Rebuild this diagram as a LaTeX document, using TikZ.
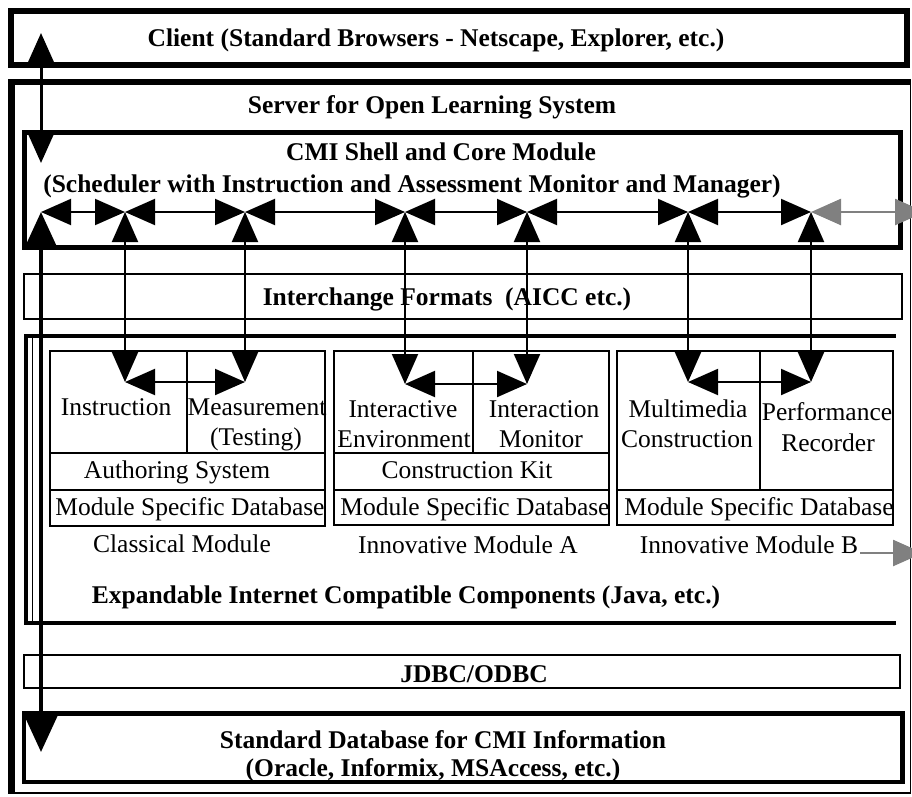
\documentclass[tikz,border=0pt]{standalone}
\usepackage{fontspec}
\setmainfont{Liberation Serif}
\usetikzlibrary{arrows.meta}
\definecolor{arrowgray}{RGB}{128,128,128}
\begin{document}
\begin{tikzpicture}[x=1pt,y=-1pt,
  txt/.style={font=\fontsize{25.5}{30}\selectfont, inner sep=0pt, anchor=base},
  btxt/.style={font=\fontsize{25.5}{30}\selectfont\bfseries, inner sep=0pt, anchor=base},
  heavybox/.style={draw, line width=6pt},
  corebox/.style={draw, line width=5pt},
  layerbox/.style={draw, line width=1.6pt},
  modbox/.style={draw, line width=2pt},
  link/.style={line width=2pt, >={Triangle[length=30pt,width=26pt]}, <->},
  toplink/.style={line width=3pt, >={Triangle[length=30pt,width=26pt]}, <->},
  biglink/.style={line width=4pt, >={Triangle[length=36pt,width=32pt]}, <->},
  graylink/.style={line width=2.5pt, draw=arrowgray, >={Triangle[length=30pt,width=26pt]}, <->, color=arrowgray},
  grayout/.style={line width=2.5pt, draw=arrowgray, >={Triangle[length=30pt,width=26pt]}, ->, color=arrowgray}
]
\clip (0,0) rectangle (912,796);
\fill[white] (0,0) rectangle (912,796);

% Client box
\draw[heavybox] (11,11) rectangle (906.5,65);
\node[btxt] (client) at (436,46) {Client (Standard Browsers - Netscape, Explorer, etc.)};

% Server frame
\draw[line width=1.5pt] (11.5,82) rectangle (910.5,793);
\draw[line width=6pt] (8,82) -- (910.5,82);
\draw[line width=7pt] (11.5,79) -- (11.5,794);
\node[btxt] (server) at (432,113) {Server for Open Learning System};

% CMI shell
\draw[corebox] (24.5,132.5) rectangle (900.5,247);
\node[btxt] (cmi1) at (441,160) {CMI Shell and Core Module};
\node[btxt] (cmi2) at (412,192) {(Scheduler with Instruction and Assessment Monitor and Manager)};

% Interchange formats
\draw[layerbox] (24,274) rectangle (902,319);
\node[btxt] (interchange) at (447,305) {Interchange Formats~ (AICC etc.)};

% Expandable components frame
\draw[line width=4.5pt] (24,336) -- (896,336);
\draw[line width=4.5pt] (24,623) -- (896,623);
\draw[line width=4.5pt] (26,334) -- (26,625);
\draw[line width=1.3pt] (32.5,338) -- (32.5,621);
\node[btxt] (expand) at (406,603) {Expandable Internet Compatible Components (Java, etc.)};

% Classical module
\draw[modbox] (50,351) rectangle (325,526);
\draw[modbox] (50,453) -- (325,453);
\draw[modbox] (50,490) -- (325,490);
\draw[modbox] (187,351) -- (187,453);
\node[txt] (instr) at (116,415) {Instruction};
\node[txt] (meas) at (257,415) {Measurement};
\node[txt] (test) at (256,445) {(Testing)};
\node[txt] (auth) at (177,478) {Authoring System};
\node[txt] (msd1) at (190,515) {Module Specific Database};
\node[txt] (classical) at (182,552) {Classical Module};

% Innovative module A
\draw[modbox] (334,351) rectangle (609,525);
\draw[modbox] (334,453) -- (609,453);
\draw[modbox] (334,490) -- (609,490);
\draw[modbox] (473,351) -- (473,453);
\node[txt] (inter1) at (403,417) {Interactive};
\node[txt] (inter2) at (404,447) {Environment};
\node[txt] (imon1) at (544,417) {Interaction};
\node[txt] (imon2) at (541,447) {Monitor};
\node[txt] (kit) at (467,478) {Construction Kit};
\node[txt] (msd2) at (475,515) {Module Specific Database};
\node[txt] (innA) at (468,553) {Innovative Module A};

% Innovative module B
\draw[modbox] (617,351) rectangle (893,525);
\draw[modbox] (617,490) -- (893,490);
\draw[modbox] (760,351) -- (760,490);
\node[txt] (mm1) at (688,417) {Multimedia};
\node[txt] (mm2) at (687,447) {Construction};
\node[txt] (perf1) at (827,420) {Performance};
\node[txt] (perf2) at (828,451) {Recorder};
\node[txt] (msd3) at (759,515) {Module Specific Database};
\node[txt] (innB) at (749,553) {Innovative Module B};

% JDBC
\draw[layerbox] (24,655) rectangle (900,688);
\node[btxt] (jdbc) at (474,682) {JDBC/ODBC};

% Standard database
\draw[line width=4.5pt] (24,713.5) rectangle (902.5,782);
\node[btxt] (db1) at (443,748) {Standard Database for CMI Information};
\node[btxt] (db2) at (433,776) {(Oracle, Informix, MSAccess, etc.)};

% connector points
\coordinate (c0) at (41,33);
\coordinate (c1) at (41,163);
\coordinate (b0) at (41,212);
\coordinate (b1) at (125,212);
\coordinate (b2) at (245,212);
\coordinate (b3) at (405,212);
\coordinate (b4) at (527,212);
\coordinate (b5) at (688,212);
\coordinate (b6) at (811,212);
\coordinate (bx) at (925,212);
\coordinate (m1) at (125,382);
\coordinate (m2) at (245,382);
\coordinate (m3) at (405,384);
\coordinate (m4) at (527,384);
\coordinate (m5) at (688,382);
\coordinate (m6) at (811,382);
\coordinate (d0) at (41,752);
\coordinate (gs) at (860,553);
\coordinate (gx) at (923,553);

% client <-> CMI
\draw[toplink] (c0) -- (c1);
% CMI <-> database
\draw[biglink] (b0) -- (d0);
% bus
\draw[link] (b0) -- (b1);
\draw[link] (b1) -- (b2);
\draw[link] (b2) -- (b3);
\draw[link] (b3) -- (b4);
\draw[link] (b4) -- (b5);
\draw[link] (b5) -- (b6);
\draw[graylink] (b6) -- (bx);
% verticals
\draw[link] (b1) -- (m1);
\draw[link] (b2) -- (m2);
\draw[link] (b3) -- (m3);
\draw[link] (b4) -- (m4);
\draw[link] (b5) -- (m5);
\draw[link] (b6) -- (m6);
% module internal links
\draw[link] (m1) -- (m2);
\draw[link] (m3) -- (m4);
\draw[link] (m5) -- (m6);
% outgoing gray
\draw[grayout] (gs) -- (gx);
\end{tikzpicture}
\end{document}
